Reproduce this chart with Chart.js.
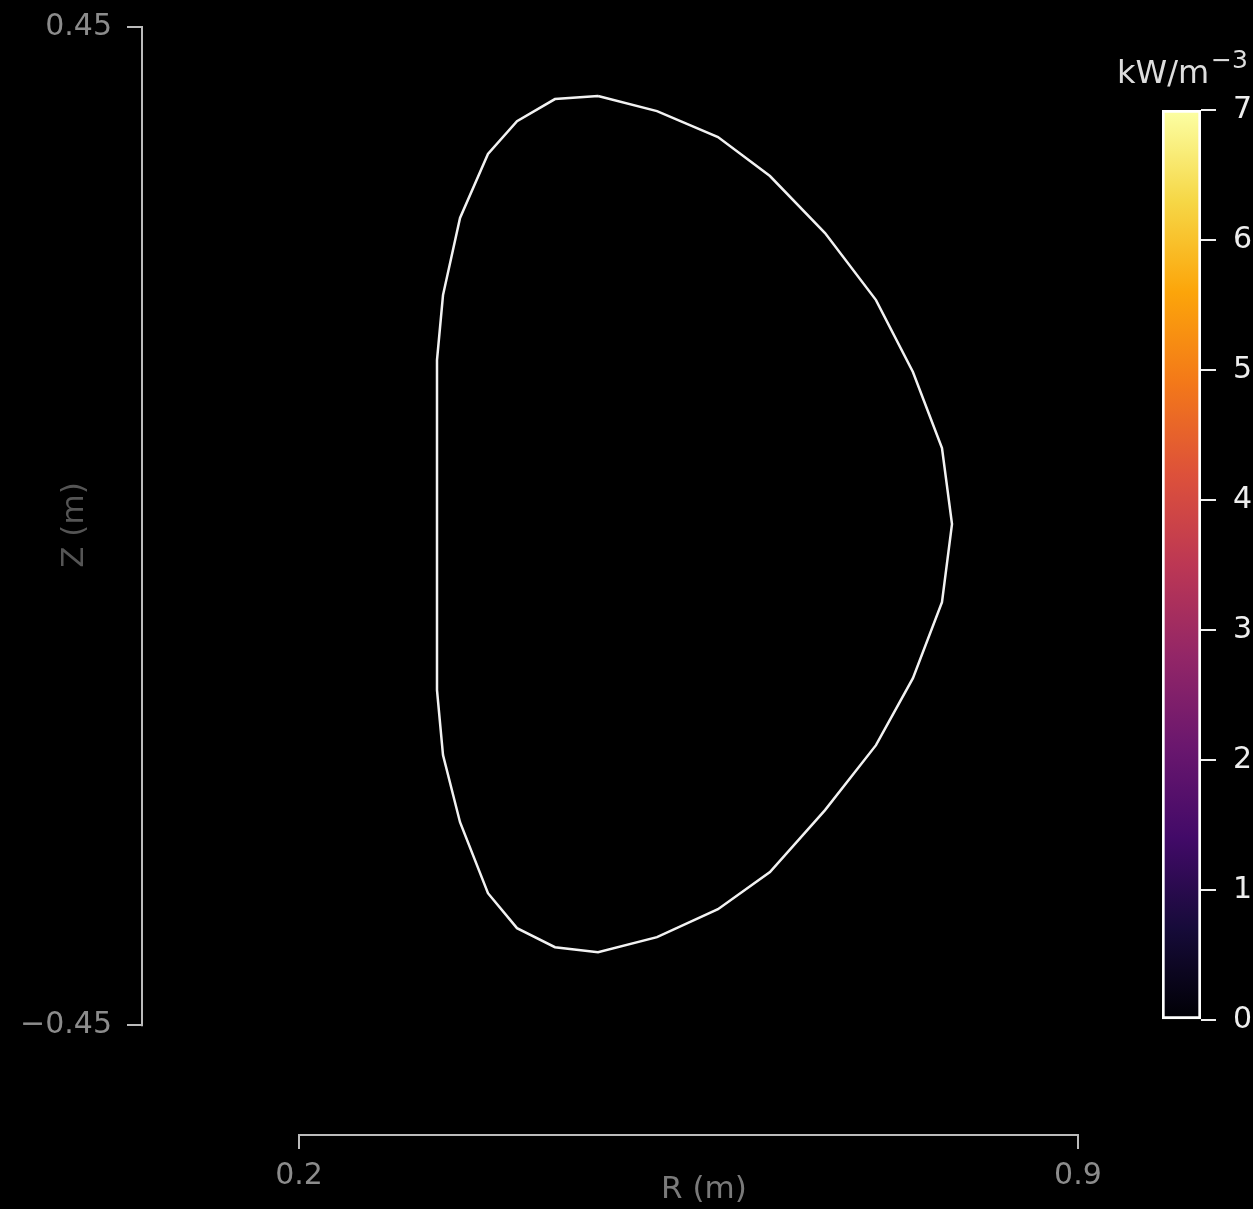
<!DOCTYPE html>
<html>
<head>
<meta charset="utf-8">
<script src="https://cdn.jsdelivr.net/npm/chart.js@4"></script>
<style>
  html, body { margin: 0; padding: 0; background: #000; }
  #wrap { position: relative; width: 1253px; height: 1209px; background: #000; overflow: hidden; }
  #main { position: absolute; left: 0; top: 0; }
  #cbar { position: absolute; left: 1100px; top: 0; }
</style>
</head>
<body>
<div id="wrap">
  <canvas id="main" width="1253" height="1209"></canvas>
  <canvas id="cbar" width="153" height="1209"></canvas>
</div>
<script>
// plasma boundary (R, Z in metres)
const boundaryR = [0.4687, 0.430, 0.3959, 0.3698, 0.3447, 0.3294, 0.3240, 0.3240, 0.3240, 0.3294,
    0.3447, 0.3698, 0.3959, 0.430, 0.4687, 0.5217, 0.5765, 0.6232, 0.6727, 0.7185,
    0.7517, 0.7778, 0.7868, 0.7778, 0.7517, 0.7185, 0.6727, 0.6232, 0.5765, 0.5217, 0.4687];
const boundaryZ = [0.3878, 0.385, 0.365, 0.3355, 0.2778, 0.2083, 0.1497, 0.0054, -0.1479, -0.2065,
    -0.267, -0.331, -0.3625, -0.3797, -0.3842, -0.3706, -0.3454, -0.312, -0.2561, -0.1975,
    -0.1371, -0.0685, 0.0018, 0.0703, 0.1389, 0.2038, 0.2642, 0.3156, 0.3508, 0.3742, 0.3878];

const rTicks = [0.2, 0.9];
const zTicks = [-0.45, 0.45];
const cbTicks = [0, 1, 2, 3, 4, 5, 6, 7];
const cbRange = [0, 7];

// inferno colormap stops
const inferno = ['#000004', '#160b39', '#420a68', '#6a176e', '#932667', '#bc3754',
    '#dd513a', '#f37819', '#fca50a', '#f6d746', '#fcffa4'];

const FONT = 'DejaVu Sans';

// offset spines + axis titles, matplotlib style
const spines = {
    id: 'spines',
    afterDraw(chart) {
        const { ctx, chartArea, scales } = chart;
        const x = scales.x, y = scales.y;
        ctx.save();
        ctx.strokeStyle = '#bbbbbb';
        ctx.lineWidth = 2;
        ctx.beginPath();
        ctx.moveTo(x.getPixelForValue(rTicks[0]) - 1, chartArea.bottom);
        ctx.lineTo(x.getPixelForValue(rTicks[1]) + 1, chartArea.bottom);
        ctx.moveTo(chartArea.left, y.getPixelForValue(zTicks[0]) + 1);
        ctx.lineTo(chartArea.left, y.getPixelForValue(zTicks[1]) - 1);
        ctx.stroke();

        ctx.font = '31px "' + FONT + '"';
        ctx.textAlign = 'center';
        ctx.textBaseline = 'middle';
        ctx.fillStyle = '#7a7a7a';
        ctx.fillText('R (m)', 704, 1190);
        ctx.translate(75, 525);
        ctx.rotate(-Math.PI / 2);
        ctx.fillStyle = '#555555';
        ctx.fillText('Z (m)', 0, 0);
        ctx.restore();
    }
};

// drop the label overhang padding chart.js adds around the scales
const noPad = s => { s.paddingTop = 0; s.paddingBottom = 0; s.paddingLeft = 0; s.paddingRight = 0; };

new Chart(document.getElementById('main'), {
    type: 'scatter',
    data: {
        datasets: [{
            data: boundaryR.map((r, i) => ({ x: r, y: boundaryZ[i] })),
            showLine: true,
            borderColor: '#f2f2f2',
            borderWidth: 2.5,
            pointRadius: 0,
            tension: 0,
            fill: false
        }]
    },
    options: {
        responsive: false,
        animation: false,
        layout: { padding: { top: 27, right: 153, left: 0, bottom: 0 } },
        plugins: { legend: { display: false }, tooltip: { enabled: false } },
        scales: {
            x: {
                type: 'linear',
                min: 0.0589,
                max: 0.9198,
                afterBuildTicks: s => { s.ticks = rTicks.map(v => ({ value: v })); },
                afterFit: s => { s.height = 74; noPad(s); },
                border: { display: false },
                grid: { drawOnChartArea: false, drawTicks: true, tickLength: 14, color: '#bbbbbb', lineWidth: 2 },
                ticks: {
                    color: '#8c8c8c', padding: 9,
                    font: { family: FONT, size: 30 },
                    callback: v => v.toFixed(1)
                }
            },
            y: {
                type: 'linear',
                min: -0.549,
                max: 0.45,
                afterBuildTicks: s => { s.ticks = zTicks.map(v => ({ value: v })); },
                afterFit: s => { s.width = 142; noPad(s); },
                border: { display: false },
                grid: { drawOnChartArea: false, drawTicks: true, tickLength: 15, color: '#bbbbbb', lineWidth: 2 },
                ticks: {
                    color: '#8c8c8c', padding: 15,
                    font: { family: FONT, size: 30 },
                    callback: v => (v < 0 ? '\u2212' : '') + Math.abs(v).toFixed(2)
                }
            }
        }
    },
    plugins: [spines]
});

// colorbar
const cbTitle = {
    id: 'cbTitle',
    afterDraw(chart) {
        const ctx = chart.ctx;
        ctx.save();
        ctx.fillStyle = '#dddddd';
        ctx.textBaseline = 'alphabetic';
        ctx.textAlign = 'left';
        ctx.font = '32px "' + FONT + '"';
        ctx.fillText('kW/m', 17, 83);
        ctx.font = '25px "' + FONT + '"';
        ctx.fillText('\u22123', 111, 68);
        ctx.restore();
    }
};

new Chart(document.getElementById('cbar'), {
    type: 'bar',
    data: {
        labels: ['cb'],
        datasets: [{
            data: [cbRange],
            backgroundColor: c => {
                const a = c.chart.chartArea;
                if (!a) return '#000';
                const g = c.chart.ctx.createLinearGradient(0, a.bottom, 0, a.top);
                inferno.forEach((col, i) => g.addColorStop(i / (inferno.length - 1), col));
                return g;
            },
            borderColor: '#ffffff',
            borderWidth: 3,
            borderSkipped: false,
            barPercentage: 1,
            categoryPercentage: 1
        }]
    },
    options: {
        responsive: false,
        animation: false,
        layout: { padding: { top: 110, left: 62, right: 0, bottom: 189 } },
        plugins: { legend: { display: false }, tooltip: { enabled: false } },
        scales: {
            x: { display: false },
            y: {
                position: 'right',
                min: cbRange[0],
                max: cbRange[1],
                afterBuildTicks: s => { s.ticks = cbTicks.map(v => ({ value: v })); },
                afterFit: s => { s.width = 52; noPad(s); },
                border: { display: false },
                grid: { drawOnChartArea: false, drawTicks: true, tickLength: 15, color: '#eeeeee', lineWidth: 2 },
                ticks: { color: '#eeeeee', padding: 17, font: { family: FONT, size: 30 } }
            }
        }
    },
    plugins: [cbTitle]
});
</script>
</body>
</html>
